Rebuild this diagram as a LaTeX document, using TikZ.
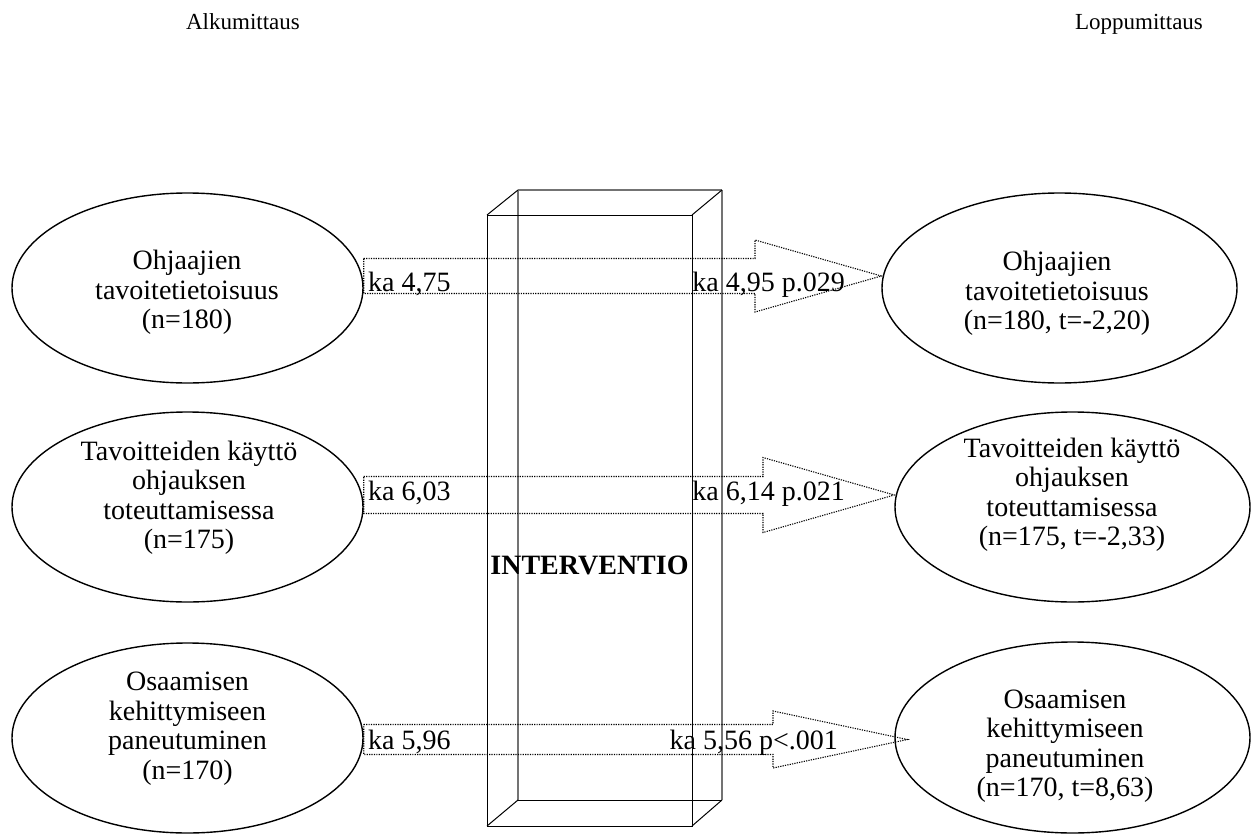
\documentclass[tikz,border=0pt]{standalone}
\usepackage{fontspec}
\setmainfont{Liberation Serif}
\usetikzlibrary{calc,shapes.geometric}
\begin{document}
\begin{tikzpicture}[x=1pt,y=-1pt,
  oval/.style={draw,ellipse,line width=1.4pt,inner sep=0pt},
  boxtext/.style={align=center,inner sep=0pt,font=\fontsize{28}{29.5}\selectfont},
  lbl/.style={inner sep=0pt,font=\fontsize{28}{29.5}\selectfont},
  flowarr/.style={dash pattern=on 1.2pt off 1.2pt,line width=1.1pt},
  edge/.style={line width=1pt},
  hidden/.style={line width=1.2pt,draw=black!55},
  head/.style={inner sep=0pt,anchor=base,font=\fontsize{23}{26}\selectfont}]
\useasboundingbox (0,0) rectangle (1253,835);

% column headings
\node[head] (pre) at (243,29) {Alkumittaus};
\node[head] (post) at (1139,29) {Loppumittaus};

% intervention block drawn as a transparent cuboid
\draw[hidden] (518,190) -- (518,800);
\draw[hidden] (722,190) -- (722,800);
\draw[hidden] (518,190) -- (722,190);
\draw[edge] (518,800) -- (722,800);
\draw[edge] (487,215) rectangle (692,826);
\draw[edge] (487,215) -- (518,190);
\draw[edge] (692,215) -- (722,190);
\draw[edge] (487,826) -- (518,800);
\draw[edge] (692,826) -- (722,800);
\node[font=\bfseries\fontsize{28}{30}\selectfont] (iv) at (589.5,565) {INTERVENTIO};

% baseline measurements
\node[oval,minimum width=351pt,minimum height=190pt] (L1) at (187.5,288) {};
\node[oval,minimum width=351pt,minimum height=190pt] (L2) at (187.5,507) {};
\node[oval,minimum width=351pt,minimum height=190pt] (L3) at (187.5,738) {};
\node[boxtext] (L1t) at (187,292.7) {Ohjaajien\\tavoitetietoisuus\\(n=180)};
\node[boxtext] (L2t) at (189,497.8) {Tavoitteiden käyttö\\ohjauksen\\toteuttamisessa\\(n=175)};
\node[boxtext] (L3t) at (187.5,728.8) {Osaamisen\\kehittymiseen\\paneutuminen\\(n=170)};

% final measurements
\node[oval,minimum width=355pt,minimum height=190pt] (R1) at (1059.5,288) {};
\node[oval,minimum width=355pt,minimum height=190pt] (R2) at (1072.5,507) {};
\node[oval,minimum width=355pt,minimum height=191pt] (R3) at (1072.5,737.5) {};
\node[boxtext] (R1t) at (1057,293.7) {Ohjaajien\\tavoitetietoisuus\\(n=180, t=-2,20)};
\node[boxtext] (R2t) at (1072,495) {Tavoitteiden käyttö\\ohjauksen\\toteuttamisessa\\(n=175, t=-2,33)};
\node[boxtext] (R3t) at (1065,746) {Osaamisen\\kehittymiseen\\paneutuminen\\(n=170, t=8,63)};

% block arrows through the intervention
\coordinate (a1t) at (L1.east |- 0,276);
\coordinate (a1h) at (R1.west |- 0,276);
\draw[flowarr] ($(a1t)+(0,-17.5)$) -- (755,258.5) -- (755,240) -- (a1h)
  -- (755,312) -- (755,293.5) -- ($(a1t)+(0,17.5)$) -- cycle;

\coordinate (a2t) at (L2.east |- 0,495);
\coordinate (a2h) at (R2.west |- 0,495);
\draw[flowarr] ($(a2t)+(0,-18.5)$) -- (763,476.5) -- (763,457.5) -- (a2h)
  -- (763,532.5) -- (763,513.5) -- ($(a2t)+(0,18.5)$) -- cycle;

\coordinate (a3t) at (L3.east |- 0,739.5);
\coordinate (a3h) at ($(R3.west |- 0,739.5)+(13,0)$);
\draw[flowarr] ($(a3t)+(0,-15)$) -- (773,724.5) -- (773,711) -- (a3h)
  -- (773,768) -- (773,754.5) -- ($(a3t)+(0,15)$) -- cycle;

% mean values
\node[lbl,anchor=base west] (k1a) at (368,291) {ka 4,75};
\node[lbl,anchor=base east] (k1b) at (845,291) {ka 4,95 p.029};
\node[lbl,anchor=base west] (k2a) at (368,500) {ka 6,03};
\node[lbl,anchor=base east] (k2b) at (845,500) {ka 6,14 p.021};
\node[lbl,anchor=base west] (k3a) at (368,749) {ka 5,96};
\node[lbl,anchor=base east] (k3b) at (838,749) {ka 5,56 p<.001};
\end{tikzpicture}
\end{document}
